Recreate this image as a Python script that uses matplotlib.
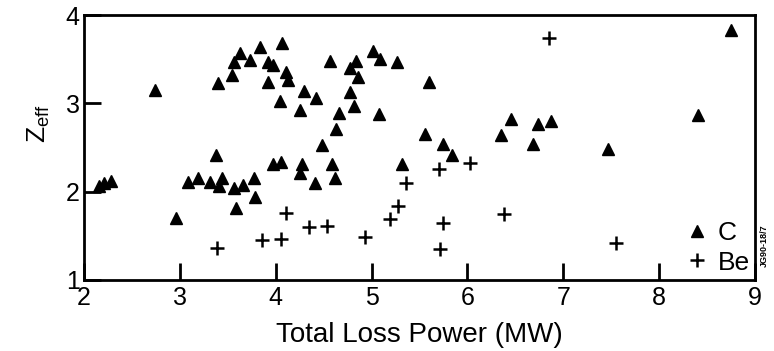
import matplotlib
matplotlib.use("Agg")
import matplotlib.pyplot as plt
from matplotlib.lines import Line2D

# -------------------- Data --------------------
c_power = [2.16, 2.21, 2.28, 2.74, 2.96,
           3.09, 3.19, 3.31, 3.44, 3.41, 3.57, 3.66, 3.77, 3.78, 3.59, 3.38,
           3.97, 4.06, 4.27, 4.25, 4.41,
           3.40, 3.54, 3.56, 3.63, 3.73, 3.84, 4.07, 3.92, 3.97, 4.11, 4.13,
           3.92, 4.04, 4.30, 4.42, 4.25,
           4.57, 4.77, 4.84, 4.86, 5.01, 5.09, 5.27, 5.60,
           4.77, 4.82, 4.66, 5.08, 4.63, 4.48, 4.59, 4.62, 5.32,
           5.56, 5.74, 5.84, 6.35, 6.45, 6.68, 6.74, 6.87,
           7.47, 8.40, 8.75]
c_zeff = [2.07, 2.10, 2.12, 3.15, 1.70,
          2.11, 2.15, 2.11, 2.15, 2.06, 2.04, 2.08, 2.15, 1.94, 1.81, 2.42,
          2.31, 2.34, 2.31, 2.21, 2.10,
          3.23, 3.32, 3.47, 3.57, 3.49, 3.64, 3.68, 3.47, 3.43, 3.36, 3.27,
          3.24, 3.03, 3.14, 3.06, 2.93,
          3.48, 3.40, 3.48, 3.30, 3.59, 3.50, 3.47, 3.24,
          3.13, 2.97, 2.89, 2.88, 2.71, 2.53, 2.31, 2.15, 2.31,
          2.65, 2.54, 2.42, 2.64, 2.82, 2.54, 2.77, 2.80,
          2.48, 2.87, 3.83]

be_power = [3.39, 3.86, 4.06, 4.11, 4.35, 4.53, 4.93, 5.19, 5.28, 5.36,
            5.70, 6.03, 5.75, 5.71, 6.38, 6.85, 7.55]
be_zeff = [1.36, 1.45, 1.46, 1.76, 1.60, 1.61, 1.49, 1.69, 1.84, 2.10,
           2.26, 2.33, 1.65, 1.35, 1.75, 3.74, 1.42]

x_ticks = [2, 3, 4, 5, 6, 7, 8, 9]
y_ticks = [1, 2, 3, 4]

# -------------------- Plot --------------------
plt.rcParams['font.family'] = ['Liberation Sans', 'DejaVu Sans']

fig = plt.figure(figsize=(7.74, 3.51), dpi=100)
ax = fig.add_axes([0.1085, 0.2023, 0.867, 0.7547])

ax.plot(c_power, c_zeff, linestyle='none', marker='^', color='black',
        markersize=8)
ax.plot(be_power, be_zeff, linestyle='none', marker='+', color='black',
        markersize=10, markeredgewidth=1.8)

ax.set_xlim(2, 9)
ax.set_ylim(1, 4)
ax.set_xticks(x_ticks)
ax.set_yticks(y_ticks)
ax.tick_params(direction='in', length=12, width=2, labelsize=18)
ax.tick_params(axis='x', pad=4)
ax.tick_params(axis='y', pad=3)
for s in ax.spines.values():
    s.set_linewidth(2)

ax.set_xlabel('Total Loss Power (MW)', fontsize=20, labelpad=9)
ax.set_ylabel(r'Z$_{\mathregular{eff}}$', fontsize=19)
ax.yaxis.set_label_coords(-0.047, 0.59)

handles = [Line2D([], [], linestyle='none', marker='^', color='black', markersize=8),
           Line2D([], [], linestyle='none', marker='+', color='black', markersize=10,
                  markeredgewidth=1.8)]
ax.legend(handles, ['C', 'Be'], loc='lower right', frameon=False, fontsize=19,
          handlelength=0.8, handletextpad=0.4, labelspacing=0.2,
          borderaxespad=0.1, borderpad=0.1)

fig.text(0.988, 0.30, 'JG90-18/7', rotation=90, fontsize=6.5, fontweight='bold',
         ha='center', va='center')

fig.savefig('out.png', dpi=100)
